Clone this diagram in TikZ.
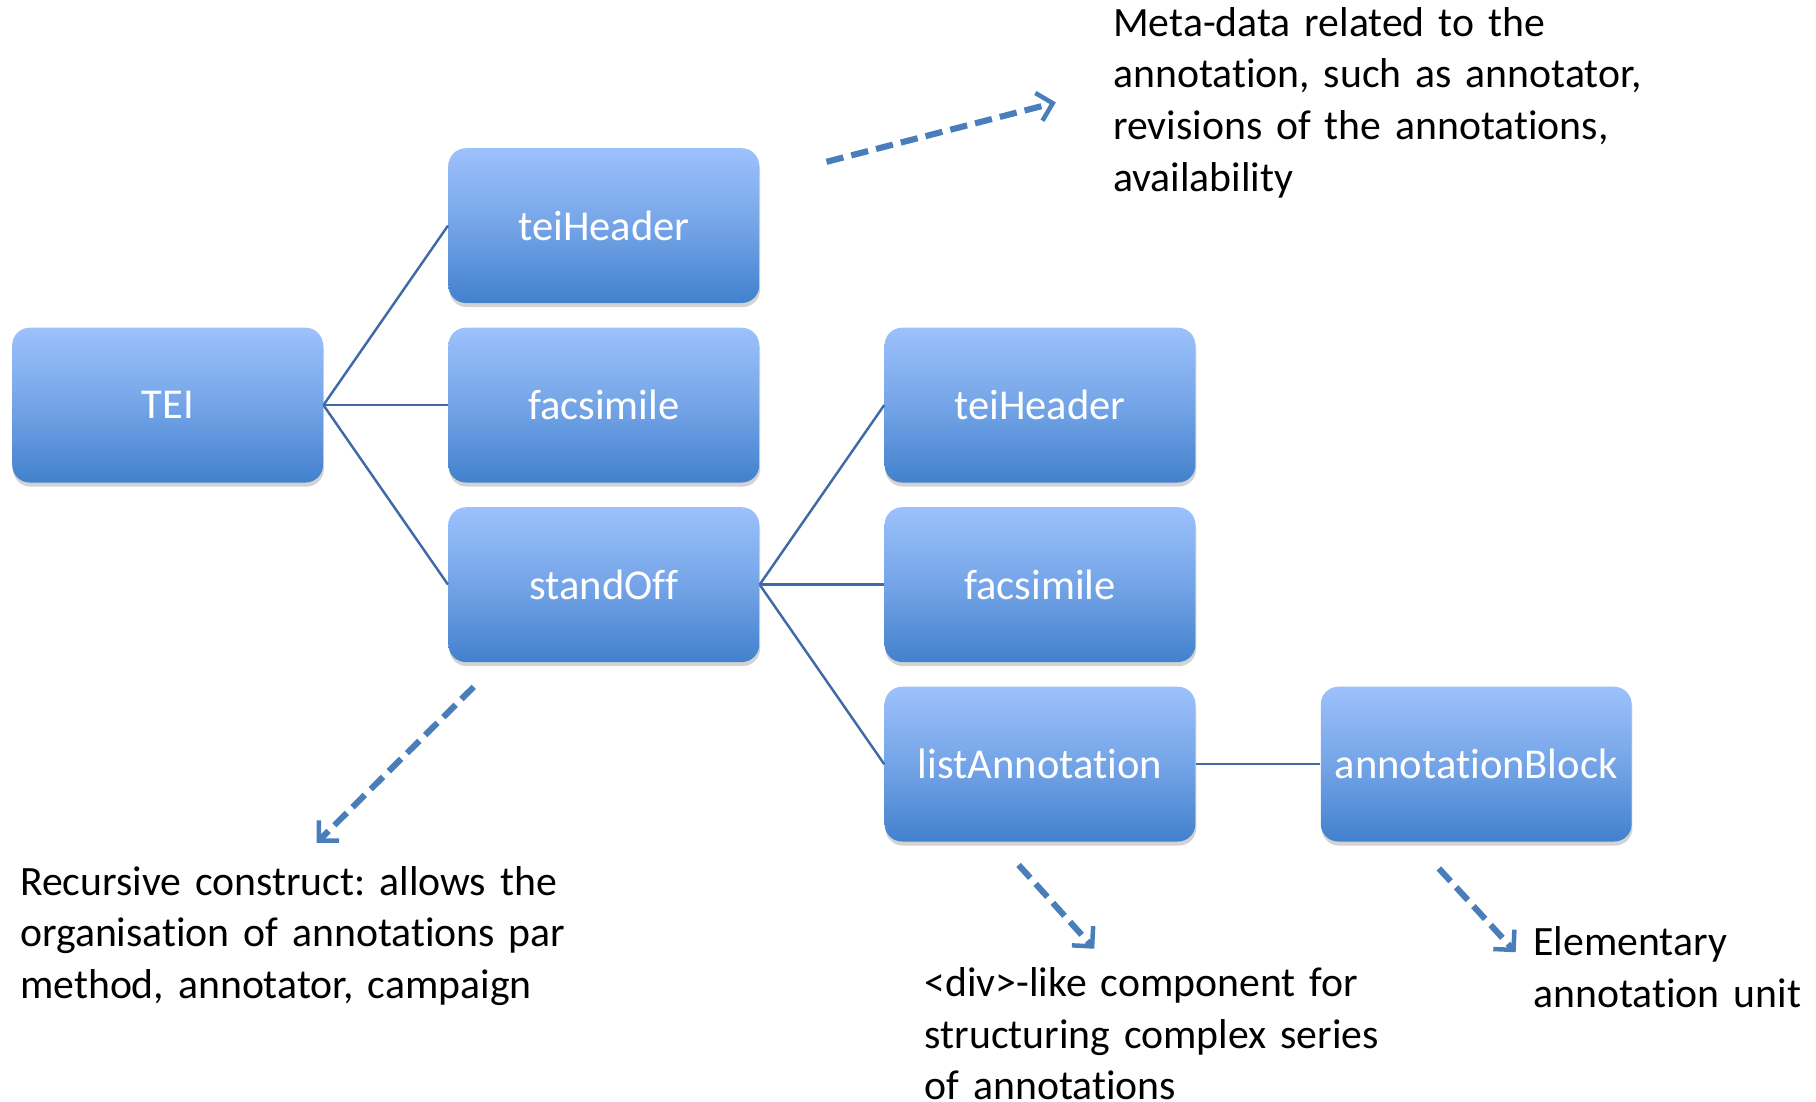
\documentclass[tikz,border=0pt]{standalone}
\usepackage{fontspec}
\setmainfont{Carlito}[Ligatures=NoCommon]
\usetikzlibrary{positioning,shadows,arrows.meta}

\definecolor{boxtop}{HTML}{9DC1FC}
\definecolor{boxbot}{HTML}{4281CD}
\definecolor{linkcol}{HTML}{3F6AA6}
\definecolor{notecol}{HTML}{4A7EBB}

\tikzset{
    elem/.style = {rectangle, rounded corners=0.3cm, minimum width=5.34cm, minimum height=2.66cm,
                   top color=boxtop, bottom color=boxbot, middle color=boxtop!55!boxbot,
                   text=white, font=\fontsize{20.8}{25}\selectfont, inner sep=0pt,
                   drop shadow={shadow xshift=0.4pt, shadow yshift=-2pt, opacity=0.35}},
    link/.style = {draw=linkcol, line width=1.2pt},
    hint/.style = {draw=notecol, line width=3pt, dash pattern=on 8.5pt off 4pt,
                   -{Straight Barb[length=7pt,width=14pt,line width=2.2pt]}},
    note/.style = {anchor=base west, inner sep=0pt, text width=10cm, align=left,
                   font=\fontsize{20.4}{25.3}\selectfont}
}

\begin{document}
\frenchspacing
\begin{tikzpicture}[node distance = 0.41cm and 2.14cm]
                \useasboundingbox (0,0) rectangle (31.2,-18.93);

                \node (tei) [elem] at (2.88,-6.96) {TEI};
                \node (facsA) [elem, right=of tei] {facsimile};
                \node (headA) [elem, above=of facsA] {teiHeader};
                \node (stand) [elem, below=of facsA] {standOff};
                \node (facsB) [elem, right=of stand] {facsimile};
                \node (headB) [elem, above=of facsB] {teiHeader};
                \node (list) [elem, below=of facsB] {listAnnotation};
                \node (block) [elem, right=of list] {annotationBlock};

                \draw [link] (tei.east) -- (headA.west);
                \draw [link] (tei.east) -- (facsA.west);
                \draw [link] (tei.east) -- (stand.west);
                \draw [link] (stand.east) -- (headB.west);
                \draw [link] (stand.east) -- (facsB.west);
                \draw [link] (stand.east) -- (list.west);
                \draw [link] (list.east) -- (block.west);

                % comments pointing to the notes
                \coordinate (h1s) at (14.2,-2.78);
                \coordinate (h1e) at (18.14,-1.76);
                \coordinate (h2s) at (8.14,-11.8);
                \coordinate (h2e) at (5.44,-14.48);
                \coordinate (h3s) at (17.5,-14.86);
                \coordinate (h3e) at (18.8,-16.3);
                \coordinate (h4s) at (24.72,-14.92);
                \coordinate (h4e) at (26.04,-16.36);

                \draw [hint] (h1s) -- (h1e);
                \draw [hint] (h2s) -- (h2e);
                \draw [hint] (h3s) -- (h3e);
                \draw [hint] (h4s) -- (h4e);

                \node (meta) [note] at (19.12,-0.62) {Meta-data related to the\\ annotation, such as annotator,\\ revisions of the annotations,\\ availability};
                \node (recur) [note] at (0.34,-15.38) {Recursive construct: allows the\\ organisation of annotations par\\ method, annotator, campaign};
                \node (divlike) [note] at (15.88,-17.12) {<div>-like component for\\ structuring complex series\\ of annotations};
                \node (unit) [note] at (26.34,-16.42) {Elementary\\ annotation unit};
            \end{tikzpicture}
\end{document}
